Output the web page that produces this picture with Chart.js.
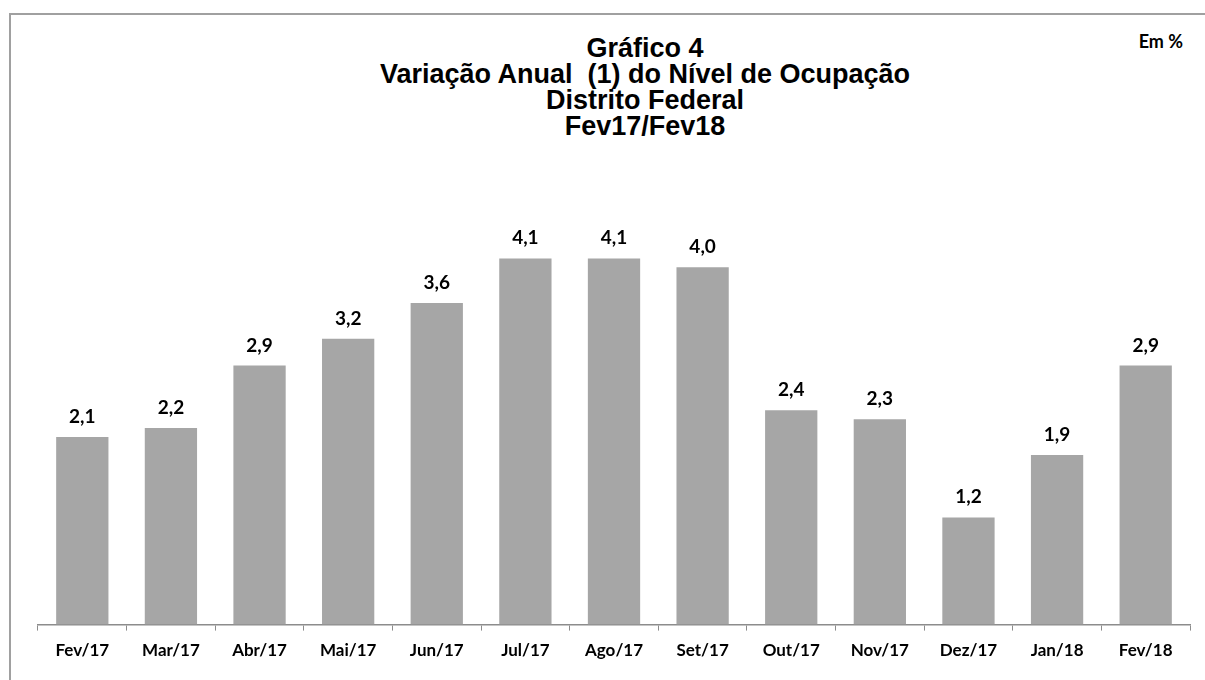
<!DOCTYPE html>
<html><head><meta charset="utf-8">
<script src="https://cdn.jsdelivr.net/npm/chart.js@4"></script>
<style>
html,body{margin:0;padding:0;background:#fff;width:1205px;height:680px;overflow:hidden;}
#frame{position:absolute;left:9px;top:13px;width:1400px;height:900px;border:2px solid #a0a0a0;box-sizing:border-box;}
#title{position:absolute;left:345px;width:600px;top:35px;text-align:center;font-family:"Liberation Sans",Arial,sans-serif;font-weight:bold;font-size:27px;line-height:26px;color:#000;}
#unit{position:absolute;right:22px;top:30px;font-family:Lato,"Open Sans",sans-serif;font-weight:bold;font-size:18px;color:#000;}
#wrap{position:absolute;left:0;top:0;width:1205px;height:680px;}
</style></head>
<body>
<div id="frame"></div>
<div id="title">Gráfico 4<br>Variação Anual&nbsp; (1) do Nível de Ocupação<br>Distrito Federal<br>Fev17/Fev18</div>
<div id="unit">Em %</div>
<div id="wrap"><canvas id="c" width="1205" height="680"></canvas></div>
<script>
const categories = ["Fev/17","Mar/17","Abr/17","Mai/17","Jun/17","Jul/17","Ago/17","Set/17","Out/17","Nov/17","Dez/17","Jan/18","Fev/18"];
const values = [2.1, 2.2, 2.9, 3.2, 3.6, 4.1, 4.1, 4.0, 2.4, 2.3, 1.2, 1.9, 2.9];

const labelPlugin = {
  id: 'barLabels',
  afterDatasetsDraw(chart) {
    const ctx = chart.ctx;
    const meta = chart.getDatasetMeta(0);
    ctx.save();
    ctx.font = 'bold 19px Lato, "Open Sans", sans-serif';
    ctx.fillStyle = '#000';
    ctx.textAlign = 'center';
    ctx.textBaseline = 'alphabetic';
    meta.data.forEach((bar, i) => {
      const txt = values[i].toFixed(1).replace('.', ',');
      ctx.fillText(txt, bar.x, bar.y - 14);
    });
    ctx.restore();
  }
};

new Chart(document.getElementById('c'), {
  type: 'bar',
  data: {
    labels: categories,
    datasets: [{
      data: values,
      backgroundColor: '#a6a6a6',
      borderWidth: 0,
      barPercentage: 0.59,
      categoryPercentage: 1.0
    }]
  },
  options: {
    responsive: false,
    animation: false,
    layout: { padding: { left: 38, right: 15, top: 178, bottom: 9 } },
    plugins: { legend: { display: false }, tooltip: { enabled: false }, title: { display: false } },
    scales: {
      y: { display: false, min: 0, max: 5 },
      x: {
        grid: { display: true, drawOnChartArea: false, drawTicks: true, tickLength: 6, color: '#8c8c8c', offset: true },
        border: { display: true, color: '#8c8c8c', width: 1.5 },
        ticks: { color: '#000', padding: 10, font: { family: 'Lato, "Open Sans", sans-serif', weight: 'bold', size: 17 } }
      }
    }
  },
  plugins: [labelPlugin]
});
</script>
</body></html>
